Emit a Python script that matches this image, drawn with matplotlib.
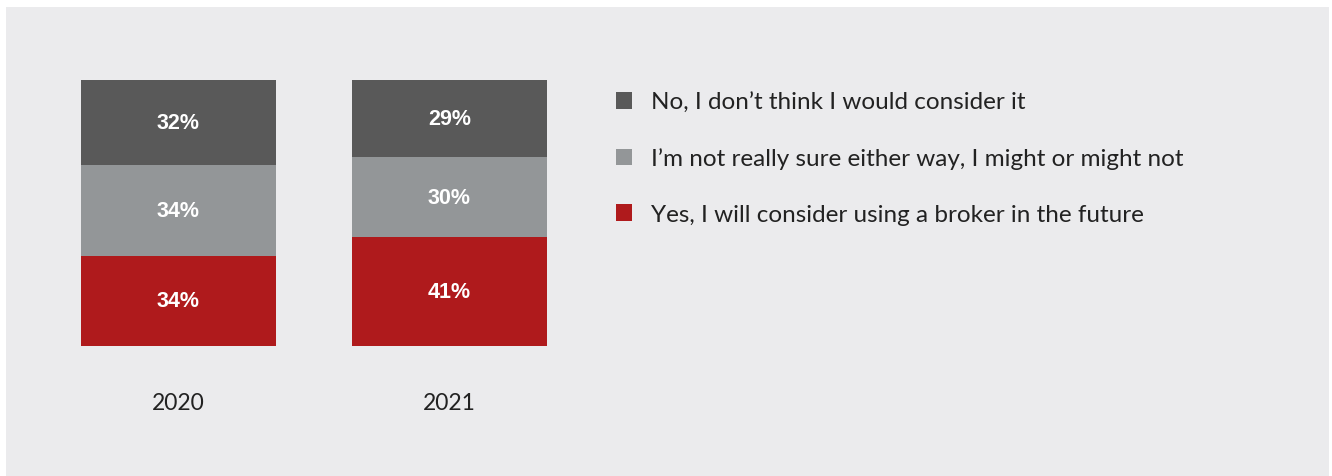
import matplotlib
matplotlib.use("Agg")
import matplotlib.pyplot as plt
from matplotlib.patches import Rectangle, Patch

# survey answers, stacked bottom to top
years = ["2020", "2021"]
answers = [
    "Yes, I will consider using a broker in the future",
    "I\u2019m not really sure either way, I might or might not",
    "No, I don\u2019t think I would consider it",
]
yes_vals = [34, 41]
unsure_vals = [34, 30]
no_vals = [32, 29]
colors = ["#AF1A1C", "#939698", "#595959"]

W, H = 1332, 477
fig = plt.figure(figsize=(W / 100, H / 100), dpi=100, facecolor="white")

# light grey panel behind everything
fig.patches.append(Rectangle((6 / W, 0), 1323 / W, 469 / H, transform=fig.transFigure,
                             facecolor="#EBEBED", edgecolor="none", zorder=-5))

ax = fig.add_axes([43 / W, 130 / H, 542 / W, 266 / H])
ax.set_facecolor("none")

bottom = [0, 0]
for vals, col in zip([yes_vals, unsure_vals, no_vals], colors):
    bars = ax.bar(range(len(years)), vals, width=0.72, bottom=bottom, color=col, linewidth=0)
    for b, v in zip(bars, vals):
        ax.text(b.get_x() + b.get_width() / 2, b.get_y() + b.get_height() / 2, f"{v}%",
                ha="center", va="center", color="white", fontsize=15.5,
                fontweight="bold", family="Liberation Sans")
    bottom = [a + v for a, v in zip(bottom, vals)]

ax.set_xlim(-0.5, 1.5)
ax.set_ylim(0, 100)
ax.set_yticks([])
ax.set_xticks(range(len(years)))
ax.set_xticklabels(years, fontsize=16.5, family="Lato", color="#222222")
ax.tick_params(axis="x", length=0, pad=33)
for s in ax.spines.values():
    s.set_visible(False)

handles = [Patch(facecolor=c, edgecolor="none") for c in colors[::-1]]
fig.legend(handles, answers[::-1], loc="upper left", bbox_to_anchor=(616 / W, 1 - 93 / H),
           frameon=False, prop={"family": "Lato", "size": 17.5}, labelcolor="#222222",
           handlelength=0.66, handleheight=0.66, handletextpad=0.78, labelspacing=1.42,
           borderpad=0, borderaxespad=0)

fig.savefig("out.png", dpi=100, facecolor="white")
